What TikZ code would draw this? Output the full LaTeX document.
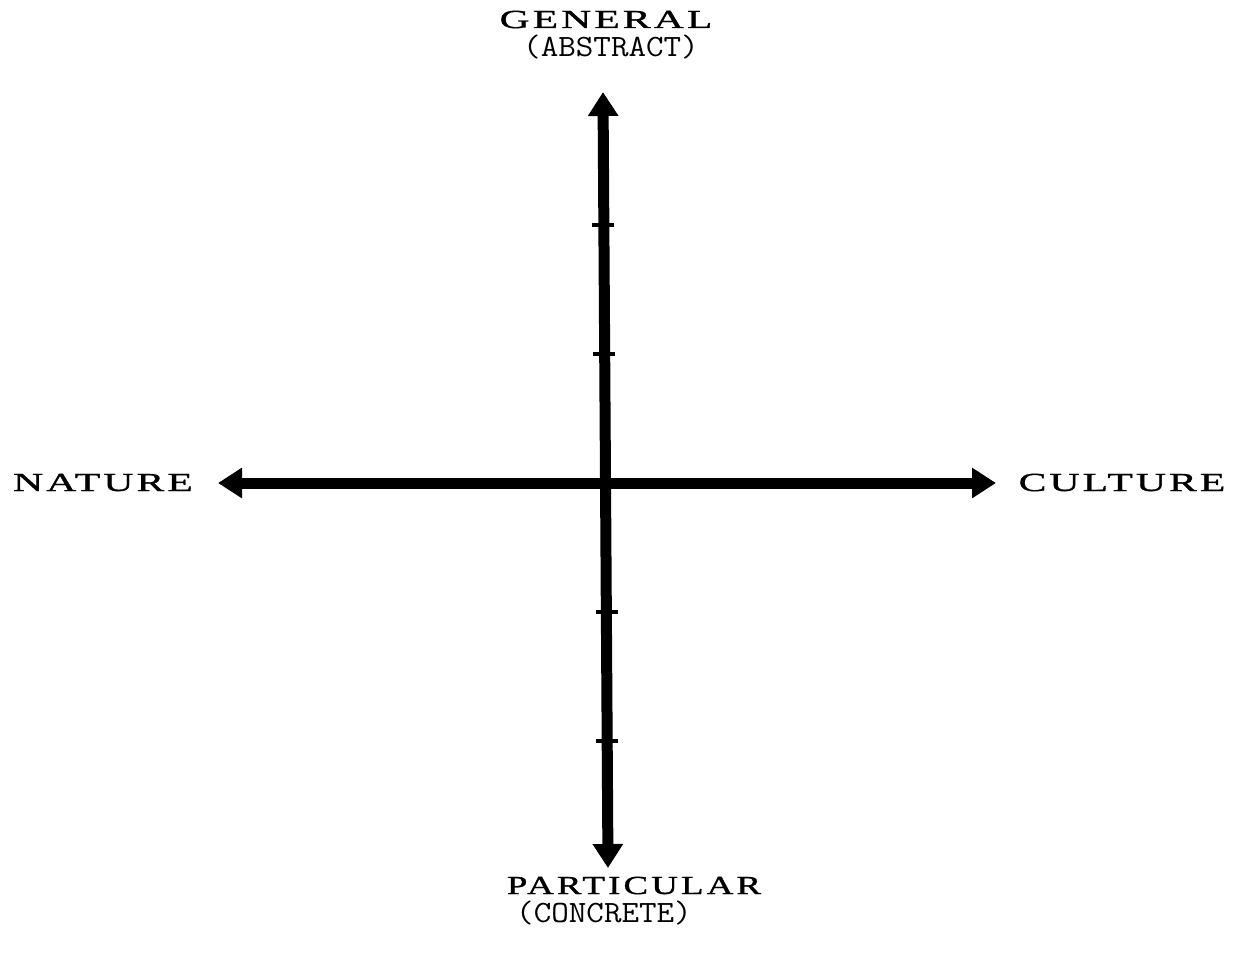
\documentclass[tikz,border=0pt]{standalone}
\usepackage{fontspec}
\usetikzlibrary{arrows.meta}
\newfontfamily\capfont[FakeStretch=1.6,FakeBold=1.2,LetterSpace=12]{Liberation Serif}
\newfontfamily\capfontn[FakeStretch=1.42,FakeBold=1.2,LetterSpace=12]{Liberation Serif}
\tikzset{
  axis/.style={line width=11pt, {Triangle[length=24pt,width=29pt]}-{Triangle[length=24pt,width=29pt]}},
  tick/.style={line width=4.5pt},
  big/.style={inner sep=0pt, anchor=base, font=\fontsize{26}{26}\selectfont\capfont},
  bign/.style={inner sep=0pt, anchor=base, font=\fontsize{26}{26}\selectfont\capfontn},
  small/.style={inner sep=0pt, anchor=base, font=\fontsize{31}{31}\selectfont\ttfamily},
}
\newcommand{\widemono}[1]{\scalebox{1.1}[1]{#1}}
\begin{document}
\begin{tikzpicture}[x=1pt,y=-1pt]
\useasboundingbox[fill=white] (0,0) rectangle (1254,960);
\coordinate (top) at (603,92);
\coordinate (bottom) at (608,868);
\coordinate (left) at (218,483);
\coordinate (right) at (996,483);
\draw[axis] (left) -- (right);
\draw[axis] (top) -- (bottom);
\coordinate (t1a) at (592,225); \coordinate (t1b) at (614,225);
\coordinate (t2a) at (593,354); \coordinate (t2b) at (615,354);
\coordinate (t3a) at (596,612); \coordinate (t3b) at (618,612);
\coordinate (t4a) at (596,741); \coordinate (t4b) at (618,741);
\draw[tick] (t1a) -- (t1b);
\draw[tick] (t2a) -- (t2b);
\draw[tick] (t3a) -- (t3b);
\draw[tick] (t4a) -- (t4b);
\node[big] (general) at (606,28) {GENERAL};
\node[small] (abstract) at (611,57) {\widemono{(ABSTRACT)}};
\node[big] (nature) at (103,491) {NATURE};
\node[big] (culture) at (1122,491) {CULTURE};
\node[bign] (particular) at (634,894) {PARTICULAR};
\node[small] (concrete) at (604,922) {\widemono{(CONCRETE)}};
\end{tikzpicture}
\end{document}
